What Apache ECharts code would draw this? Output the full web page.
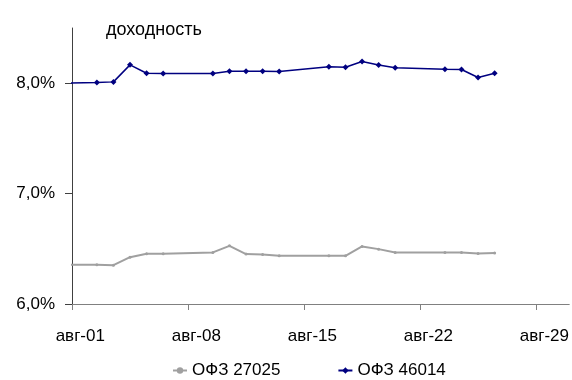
<!DOCTYPE html>
<html lang="ru">
<head>
<meta charset="UTF-8">
<title>доходность ОФЗ</title>
<script src="https://cdn.jsdelivr.net/npm/echarts@6/dist/echarts.min.js"></script>
<style>
    html, body { margin: 0; padding: 0; background: #fff; }
    #chart { width: 572px; height: 380px; }
</style>
</head>
<body>
<div id="chart"></div>
<script type="text/javascript">
    // торговые дни (мм-дд)
    var dates = ['07-30', '08-02', '08-03', '08-04', '08-05', '08-06',
        '08-09', '08-10', '08-11', '08-12', '08-13',
        '08-16', '08-17', '08-18', '08-19', '08-20',
        '08-23', '08-24', '08-25', '08-26'];
    // доходность, %
    var ofz27025 = [6.355, 6.355, 6.352, 6.424, 6.455, 6.455,
        6.467, 6.527, 6.452, 6.449, 6.436,
        6.436, 6.436, 6.521, 6.497, 6.467,
        6.467, 6.467, 6.458, 6.461];
    var ofz46014 = [8.000, 8.006, 8.012, 8.166, 8.090, 8.088,
        8.088, 8.109, 8.109, 8.109, 8.106,
        8.148, 8.145, 8.197, 8.164, 8.139,
        8.127, 8.124, 8.052, 8.091];
    var xTicks = ['08-01', '08-08', '08-15', '08-22', '08-29'];
    var yTicks = [6, 7, 8];

    // дни от 1 августа
    function dayOf(s) {
        var p = s.split('-');
        return (Date.UTC(2000, +p[0] - 1, +p[1]) - Date.UTC(2000, 7, 1)) / 864e5;
    }
    function pts(vals) {
        return dates.map(function (d, i) { return [dayOf(d) + 0.5, vals[i]]; });
    }

    var chart = echarts.init(document.getElementById('chart'));
    var font = 'Liberation Sans, Arial, sans-serif';

    var option = {
        animation: false,
        title: {
            text: 'доходность',
            left: 106, top: 21, padding: 0,
            textStyle: { fontFamily: font, fontSize: 18, fontWeight: 'normal', color: '#000' }
        },
        legend: {
            left: 167, top: 357,
            itemWidth: 14, itemHeight: 8, itemGap: 57,
            textStyle: { fontFamily: font, fontSize: 17, color: '#000' },
            data: ['ОФЗ 27025', 'ОФЗ 46014']
        },
        grid: { left: 72, right: 2, top: 28, bottom: 76, containLabel: false },
        xAxis: {
            type: 'value',
            min: 0, max: 30,
            splitLine: { show: false },
            axisLine: { lineStyle: { color: '#808080', width: 1 } },
            axisTick: {
                show: true, inside: false, length: 6,
                customValues: xTicks.map(dayOf),
                lineStyle: { color: '#808080' }
            },
            axisLabel: {
                customValues: xTicks.map(function (t) { return dayOf(t) + 0.5; }),
                formatter: function (v) {
                    var d = Math.floor(v) + 1;
                    return 'авг-' + (d < 10 ? '0' + d : d);
                },
                margin: 24,
                fontFamily: font, fontSize: 17, color: '#000'
            }
        },
        yAxis: {
            type: 'value',
            min: 6, max: 8.5,
            splitLine: { show: false },
            axisLine: { show: true, lineStyle: { color: '#404040', width: 1 } },
            axisTick: {
                show: true, inside: false, length: 7,
                customValues: yTicks,
                lineStyle: { color: '#404040' }
            },
            axisLabel: {
                customValues: yTicks,
                formatter: function (v) { return v.toFixed(1).replace('.', ',') + '%'; },
                margin: 17,
                fontFamily: font, fontSize: 17, color: '#000'
            }
        },
        series: [
            {
                name: 'ОФЗ 27025',
                type: 'line',
                data: pts(ofz27025),
                clip: true,
                symbol: 'circle', symbolSize: 3,
                lineStyle: { color: '#a0a0a0', width: 2 },
                itemStyle: { color: '#a0a0a0' }
            },
            {
                name: 'ОФЗ 46014',
                type: 'line',
                data: pts(ofz46014),
                clip: true,
                symbol: 'diamond', symbolSize: 6,
                lineStyle: { color: '#000080', width: 1.5 },
                itemStyle: { color: '#000080' }
            }
        ]
    };

    chart.setOption(option);
</script>
</body>
</html>
